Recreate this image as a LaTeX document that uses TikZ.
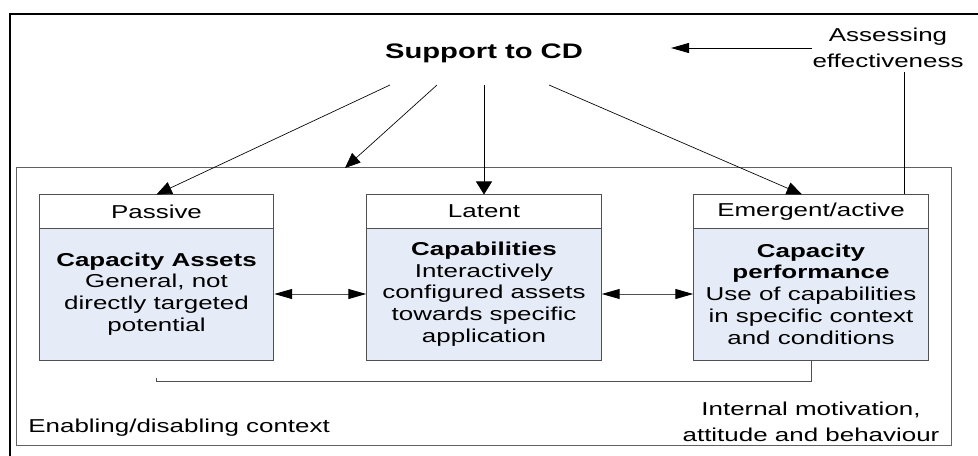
\documentclass[tikz,border=0pt]{standalone}
\usepackage{fontspec}
\setmainfont{Liberation Sans}
\usetikzlibrary{arrows.meta}

\definecolor{boxfill}{RGB}{230,236,247}
\definecolor{boxline}{RGB}{80,80,80}

\tikzset{
  wide/.style={xscale=1.39},
  head/.style={wide,draw=boxline,line width=0.75pt,fill=white,inner sep=0pt,
    minimum width=126.3pt,minimum height=24.75pt,font=\fontsize{14pt}{16.3pt}\selectfont},
  body/.style={wide,draw=boxline,line width=0.75pt,fill=boxfill,inner sep=0pt,align=center,
    minimum width=126.3pt,minimum height=99pt,font=\fontsize{14pt}{16.3pt}\selectfont},
  note/.style={wide,inner sep=0pt,align=center,font=\fontsize{14pt}{19.5pt}\selectfont},
  harrow/.style={-{Triangle[length=13.5pt,width=7.5pt]}},
  varrow/.style={-{Triangle[length=9.75pt,width=12pt]}},
  sarrow/.style={-{Triangle[length=11.5pt,width=9.5pt]}},
  both/.style={{Triangle[length=13.5pt,width=7.5pt,color=black]}-{Triangle[length=13.5pt,width=7.5pt,color=black]}}
}

\begin{document}
\begin{tikzpicture}[x=0.75pt,y=-0.75pt]
  \useasboundingbox (0,0) rectangle (978,456);
  % frame and context
  \draw[line width=1.6pt] (990,14) -- (10,14) -- (10,470);
  \node[draw=boxline!90,line width=0.75pt,minimum width=701.25pt,minimum height=207.75pt,inner sep=0pt] (ctx) at (483.5,306.5) {};

  \node[wide,font=\fontsize{15.75pt}{18pt}\selectfont\bfseries,inner sep=0pt,anchor=base] (sup) at (484,59) {Support to CD};
  \node[note] (assess) at (888,48) {Assessing\\effectiveness};

  \node[head] (pas) at (156.5,211.5) {Passive};
  \node[head] (lat) at (484,211.5) {Latent};
  \node[head] (emg) at (811,211.5) {Emergent/active};
  \node[body] (assets) at (156.5,294) {\textbf{Capacity Assets}\\General, not\\directly targeted\\potential};
  \node[body] (capab) at (484,294) {\textbf{Capabilities}\\Interactively\\configured assets\\towards specific\\application};
  \node[body] (perf) at (811,294) {\textbf{Capacity}\\\textbf{performance}\\Use of capabilities\\in specific context\\and conditions};

  \node[wide,inner sep=0pt,anchor=base west,font=\fontsize{14pt}{16.3pt}\selectfont] (enab) at (28,432) {Enabling/disabling context};
  \node[note] (motiv) at (811,422) {Internal motivation,\\attitude and behaviour};

  \coordinate (s1) at (390,85);
  \coordinate (s2) at (437,85);
  \coordinate (s3) at (484,85);
  \coordinate (s4) at (549,85);
  \coordinate (c2) at (345,168);
  \coordinate (back) at (671,48);
  \coordinate (v1) at (904,72);
  \coordinate (tick) at (156,378);

  \draw[sarrow,line width=0.5pt] (s1) -- (pas.north);
  \draw[sarrow,line width=0.5pt] (s2) -- (c2);
  \draw[varrow,line width=0.5pt] (s3) -- (lat.north);
  \draw[sarrow,line width=0.5pt] (s4) -- ([xshift=-6.75pt]emg.north);
  \draw[harrow,line width=0.6pt] (assess.west) -- (back);
  \draw[line width=0.75pt] (v1) -- (v1 |- emg.north);

  \draw[both,draw=boxline,line width=0.75pt] (assets) -- (capab);
  \draw[both,draw=boxline,line width=0.75pt] (capab) -- (perf);
  \draw[draw=boxline,line width=0.75pt] (perf.south) -- ++(0,21) -| (tick);
\end{tikzpicture}
\end{document}
